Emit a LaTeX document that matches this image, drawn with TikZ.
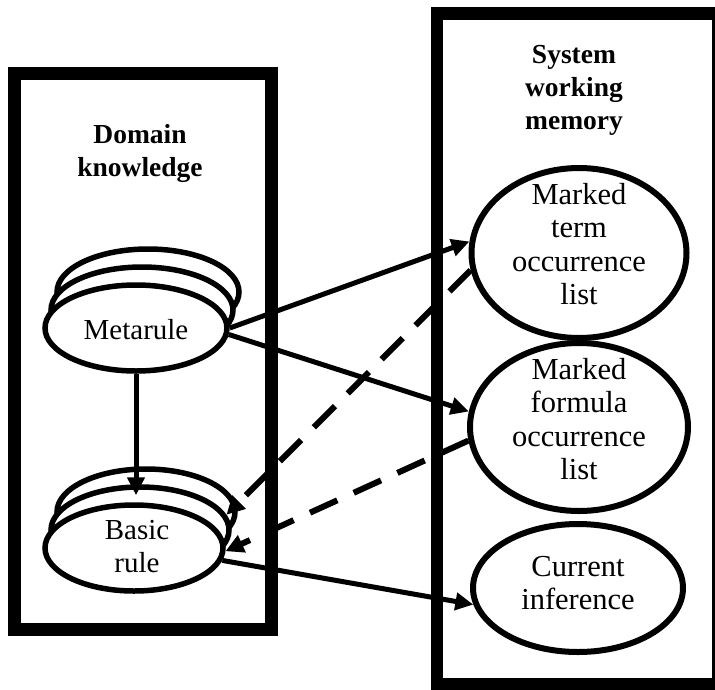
\documentclass[tikz,border=0pt]{standalone}
\usepackage{fontspec}
\setmainfont{Liberation Serif}
\usetikzlibrary{shapes.geometric,arrows.meta}
\begin{document}
\begin{tikzpicture}[x=1pt,y=-1pt,
  frame/.style={draw,rectangle,line width=12.5pt,inner sep=0pt},
  ell/.style={ellipse,draw,fill=white,line width=5.5pt,inner sep=0pt},
  rell/.style={ell,line width=6pt},
  lbl/.style={align=center,inner sep=0pt,font=\fontsize{29}{33}\selectfont},
  rlbl/.style={align=center,inner sep=0pt,font=\fontsize{30.5}{33.5}\selectfont},
  ttl/.style={align=center,inner sep=0pt,font=\fontsize{27.5}{33}\selectfont\bfseries},
  arr/.style={line width=5pt,-{Triangle[length=18pt,width=17pt]}},
  darr/.style={line width=6pt,dash pattern=on 30pt off 18pt,-{Triangle[length=18pt,width=18pt]}}]
\useasboundingbox (0,0) rectangle (715,689);
\clip (0,0) rectangle (715,689);
% containers
\node[frame,minimum width=257pt,minimum height=556pt] (leftbox) at (143,351.5) {};
\node[frame,minimum width=281pt,minimum height=670.5pt] (rightbox) at (577.5,348.75) {};
% titles
\node[ttl] (dkt) at (140,153) {Domain\\knowledge};
\node[ttl] (swt) at (574,90) {System\\working\\memory};
% metarule stack
\node[ell,minimum width=182pt,minimum height=86pt] (mr3) at (148,292) {};
\node[ell,minimum width=182pt,minimum height=86pt] (mr2) at (142,310) {};
\node[ell,minimum width=182pt,minimum height=86pt] (mr) at (136,328) {};
\node[lbl] (mrt) at (136,330) {Metarule};
% basic rule stack
\node[ell,minimum width=178pt,minimum height=86pt] (br3) at (146,512) {};
\node[ell,minimum width=178pt,minimum height=86pt] (br2) at (140,530) {};
\node[ell,minimum width=178pt,minimum height=86pt] (br) at (134,548) {};
\node[lbl] (brt) at (137,547) {Basic\\rule};
% working memory
\node[rell,minimum width=215pt,minimum height=170pt] (mt) at (579,253) {};
\node[rlbl] (mtt) at (579,244) {Marked\\term\\occurrence\\list};
\node[rell,minimum width=218pt,minimum height=168pt] (mf) at (579,427) {};
\node[rlbl] (mft) at (579,419) {Marked\\formula\\occurrence\\list};
\node[rell,minimum width=210pt,minimum height=128pt] (ci) at (578,588) {};
\node[rlbl] (cit) at (578,583) {Current\\inference};
% connectors
\path (mr.south |- br.north) coordinate (vt0);
\coordinate (vt) at ([yshift=7pt]vt0);
\draw[arr] (mr.south) -- (vt);
\draw[arr] (mr.east) -- (mt.174);
\draw[arr] (mr.-4) -- (mf.172);
\draw[arr] (br.-8) -- (ci.189);
\draw[darr] (mt.189) -- (br2.10);
\draw[darr] (mf.187) -- (br.-2);
\end{tikzpicture}
\end{document}
